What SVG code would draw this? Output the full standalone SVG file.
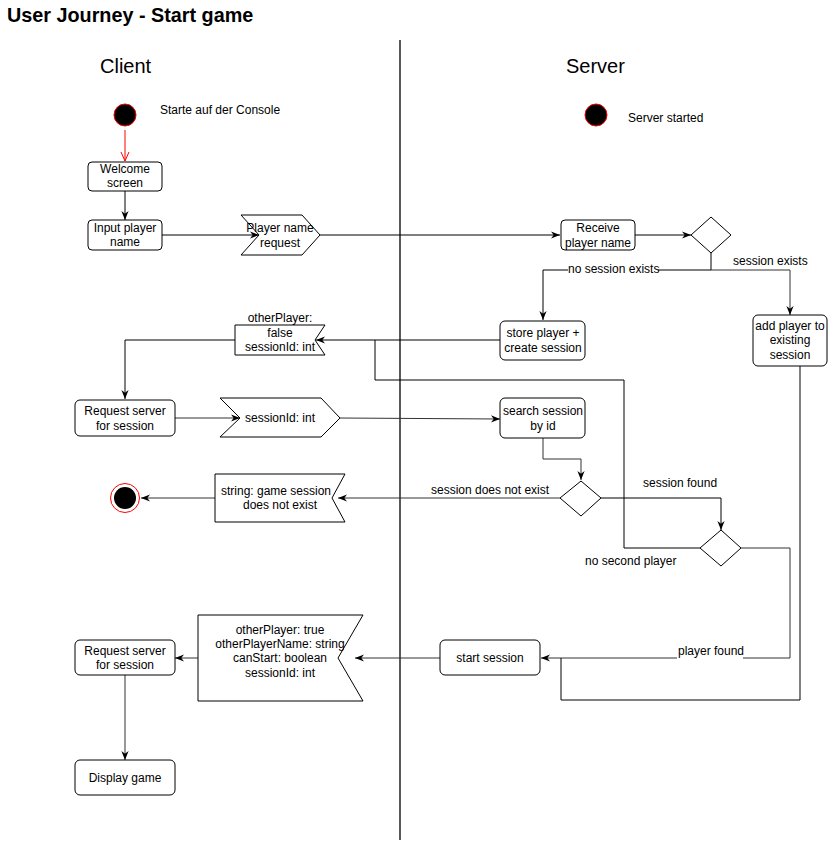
<svg xmlns="http://www.w3.org/2000/svg" width="828" height="842" viewBox="0 0 828 842">
<style>
text{font-family:"Liberation Sans",Arial,sans-serif;fill:#000;}
.t{font-size:12px;text-anchor:middle;dominant-baseline:central;}
.l{font-size:12px;dominant-baseline:central;}
.box{fill:#fff;stroke:#000;stroke-width:1;}
.msg{fill:#fff;stroke:#000;stroke-width:1;}
.c{fill:none;stroke:#000;stroke-width:1;}
.g{fill:none;stroke:#333;stroke-width:1;}
.bg{fill:#fff;}
</style>
<defs>
<marker id="arr" viewBox="0 0 10 10" refX="10" refY="5" markerWidth="9" markerHeight="9" orient="auto" markerUnits="userSpaceOnUse"><path d="M0,1 L10,5 L0,9 L3,5 z" fill="#000"/></marker>
<marker id="open" viewBox="0 0 10 10" refX="10" refY="5" markerWidth="10" markerHeight="10" orient="auto" markerUnits="userSpaceOnUse"><path d="M1,1 L10,5 L1,9" fill="none" stroke="#ff0000" stroke-width="1"/></marker>
</defs>
<rect width="828" height="842" fill="#fff"/>
<text x="7" y="22" style="font-size:19.8px;font-weight:bold;">User Journey - Start game</text>
<line x1="400" y1="40" x2="400" y2="840" stroke="#000" stroke-width="1.3"/>
<text x="100" y="73" style="font-size:20px;">Client</text>
<text x="566" y="73" style="font-size:20px;">Server</text>

<g id="connectors">
<line x1="125" y1="130" x2="125" y2="161" stroke="#ff0000" stroke-width="1" marker-end="url(#open)"/>
<line class="c" x1="125" y1="191" x2="125" y2="220" stroke-width="1.5" marker-end="url(#arr)"/>
<line class="c" x1="162" y1="235" x2="259" y2="235" marker-end="url(#arr)"/>
<line class="c" x1="320" y1="235" x2="560" y2="235" marker-end="url(#arr)"/>
<line class="c" x1="635" y1="235" x2="691" y2="235" marker-end="url(#arr)"/>
<polyline class="c" points="711,253 711,270 543,270 543,320" marker-end="url(#arr)"/>
<polyline class="g" points="711,270 790,270 790,315" marker-end="url(#arr)"/>
<line class="c" x1="500" y1="340" x2="316" y2="340" marker-end="url(#arr)"/>
<polyline class="c" points="235,340 125,340 125,399" marker-end="url(#arr)"/>
<polyline class="c" points="700,548 624,548 624,380 375,380 375,340"/>
<line class="g" x1="175" y1="418" x2="240" y2="418" marker-end="url(#arr)"/>
<line class="g" x1="340" y1="418" x2="500" y2="419" marker-end="url(#arr)"/>
<polyline class="g" points="543,438 543,459 581,459 581,480" marker-end="url(#arr)"/>
<line class="g" x1="560" y1="498" x2="338" y2="498" marker-end="url(#arr)"/>
<line class="g" x1="215" y1="498" x2="141" y2="498" marker-end="url(#arr)"/>
<polyline class="c" points="601,498 721,498 721,530" marker-end="url(#arr)"/>
<polyline class="g" points="741,548 790,548 790,658 541,658" marker-end="url(#arr)"/>
<polyline class="c" points="800,366 800,700 561,700 561,658"/>
<line class="g" x1="440" y1="658" x2="355" y2="658" marker-end="url(#arr)"/>
<line class="g" x1="198" y1="658" x2="175" y2="658" marker-end="url(#arr)"/>
<line class="g" x1="125" y1="675" x2="125" y2="760" marker-end="url(#arr)"/>
<rect class="bg" x="568" y="262" width="90" height="15"/>
<text class="l" x="568" y="269">no session exists</text>
<text class="l" x="733" y="261">session exists</text>
<text class="l" x="431" y="490">session does not exist</text>
<text class="l" x="643" y="483">session found</text>
<text class="l" x="585" y="561">no second player</text>
<rect class="bg" x="677" y="645" width="66" height="15"/>
<text class="l" x="678" y="651">player found</text>
</g>

<g id="client-start">
<circle cx="125" cy="115" r="11" fill="#000" stroke="#ff0000" stroke-width="1"/>
<text x="160" y="110" style="font-size:12px;dominant-baseline:central;">Starte auf der Console</text>
</g>
<g id="welcome">
<rect class="box" x="88" y="162" width="74" height="29" rx="4"/>
<text class="t" x="125" y="169">Welcome</text>
<text class="t" x="125" y="183">screen</text>
</g>
<g id="input-name">
<rect class="box" x="88" y="220" width="74" height="30" rx="4"/>
<text class="t" x="125" y="228">Input player</text>
<text class="t" x="125" y="242">name</text>
</g>
<g id="msg-name">
<polygon class="msg" points="241,215 302,215 320,235 302,255 241,255 259,235"/>
<text class="t" x="280" y="228">Player name</text>
<text class="t" x="280" y="243">request</text>
</g>
<g id="server-start">
<circle cx="596" cy="115" r="11" fill="#000" stroke="#ff0000" stroke-width="1"/>
<text x="628" y="118" style="font-size:12px;dominant-baseline:central;">Server started</text>
</g>
<g id="receive">
<rect class="box" x="561" y="220" width="74" height="30" rx="4"/>
<text class="t" x="598" y="228">Receive</text>
<text class="t" x="598" y="243">player name</text>
</g>
<g id="dec1">
<polygon class="box" points="711,217 731,235 711,253 691,235"/>
</g>
<g id="store">
<rect class="box" x="500" y="321" width="85" height="39" rx="5"/>
<text class="t" x="543" y="333">store player +</text>
<text class="t" x="543" y="348">create session</text>
</g>
<g id="add-player">
<rect class="box" x="753" y="315" width="74" height="51" rx="5"/>
<text class="t" x="790" y="326">add player to</text>
<text class="t" x="790" y="340">existing</text>
<text class="t" x="790" y="355">session</text>
</g>
<g id="msg-false">
<polygon class="msg" points="235,325 325,325 315,340 325,355 235,355"/>
<text class="t" x="280" y="318">otherPlayer:</text>
<text class="t" x="280" y="333">false</text>
<text class="t" x="280" y="347">sessionId: int</text>
</g>
<g id="request1">
<rect class="box" x="75" y="400" width="100" height="36" rx="5"/>
<text class="t" x="125" y="411">Request server</text>
<text class="t" x="125" y="426">for session</text>
</g>
<g id="msg-session">
<polygon class="msg" points="220,398 321,398 340,418 321,437 220,437 240,418"/>
<text class="t" x="280" y="418">sessionId: int</text>
</g>
<g id="search">
<rect class="box" x="500" y="398" width="85" height="40" rx="5"/>
<text class="t" x="543" y="411">search session</text>
<text class="t" x="543" y="426">by id</text>
</g>
<g id="dec2">
<polygon class="box" points="581,481 601,498 581,516 560,498"/>
</g>
<g id="msg-notexist">
<polygon class="msg" points="215,474 345,474 332,498 345,522 215,522"/>
<text class="t" x="276" y="491">string: game session</text>
<text class="t" x="280" y="505">does not exist</text>
</g>
<g id="end">
<circle cx="125" cy="498" r="14.5" fill="#fff" stroke="#ff0000" stroke-width="1"/>
<circle cx="125" cy="498" r="11" fill="#000"/>
</g>
<g id="dec3">
<polygon class="box" points="721,530 741,548 721,566 700,548"/>
</g>
<g id="start-session">
<rect class="box" x="440" y="640" width="100" height="35" rx="5"/>
<text class="t" x="490" y="658">start session</text>
</g>
<g id="msg-true">
<polygon class="msg" points="198,615 363,615 338,658 363,701 198,701"/>
<text class="t" x="280" y="630">otherPlayer: true</text>
<text class="t" x="280" y="644">otherPlayerName: string</text>
<text class="t" x="280" y="658">canStart: boolean</text>
<text class="t" x="280" y="673">sessionId: int</text>
</g>
<g id="request2">
<rect class="box" x="75" y="640" width="100" height="35" rx="5"/>
<text class="t" x="125" y="651">Request server</text>
<text class="t" x="125" y="665">for session</text>
</g>
<g id="display">
<rect class="box" x="75" y="760" width="100" height="35" rx="5"/>
<text class="t" x="125" y="778">Display game</text>
</g>
</svg>
